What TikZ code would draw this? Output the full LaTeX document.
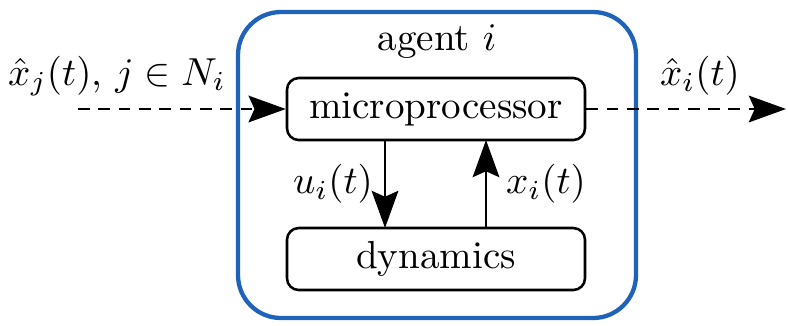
\documentclass[tikz,border=0pt]{standalone}
\usetikzlibrary{arrows.meta}
\definecolor{agentblue}{RGB}{31,98,186}
\begin{document}
\begin{tikzpicture}[x=0.256pt,y=-0.256pt,
  block/.style={draw, rounded corners=3pt, line width=0.65pt,
    minimum width=298*0.256pt, minimum height=62*0.256pt, inner sep=0pt},
  flow/.style={line width=0.75pt, -{Stealth[length=9.5pt,width=6.8pt,inset=1.5pt]}},
  msg/.style={flow, dash pattern=on 3pt off 2.2pt}]
  \useasboundingbox (0,0) rectangle (788,325);
  % agent frame
  \draw[agentblue, line width=1.1pt, rounded corners=11pt] (238,12) rectangle (636,318);
  \node (agent) at (437,42) {agent $i$};
  % blocks
  \node[block] (mp) at (436,109) {microprocessor};
  \node[block] (dyn) at (436,259) {dynamics};
  % inner loop
  \coordinate (u1) at (385,140);
  \coordinate (u2) at (385,228);
  \coordinate (x1) at (486,228);
  \coordinate (x2) at (486,140);
  \draw[flow] (u1) -- (u2);
  \draw[flow] (x1) -- (x2);
  \node (ulab) at (333,184) {$u_i(t)$};
  \node (xlab) at (546,184) {$x_i(t)$};
  % communication
  \coordinate (in) at (78,109);
  \coordinate (out) at (786,109);
  \draw[msg] (in) -- (mp.west);
  \draw[msg] (mp.east) -- (out);
  \node (inlab) at (117,76) {$\hat{x}_j(t)$, $j\in N_i$};
  \node (outlab) at (700,76) {$\hat{x}_i(t)$};
\end{tikzpicture}
\end{document}
